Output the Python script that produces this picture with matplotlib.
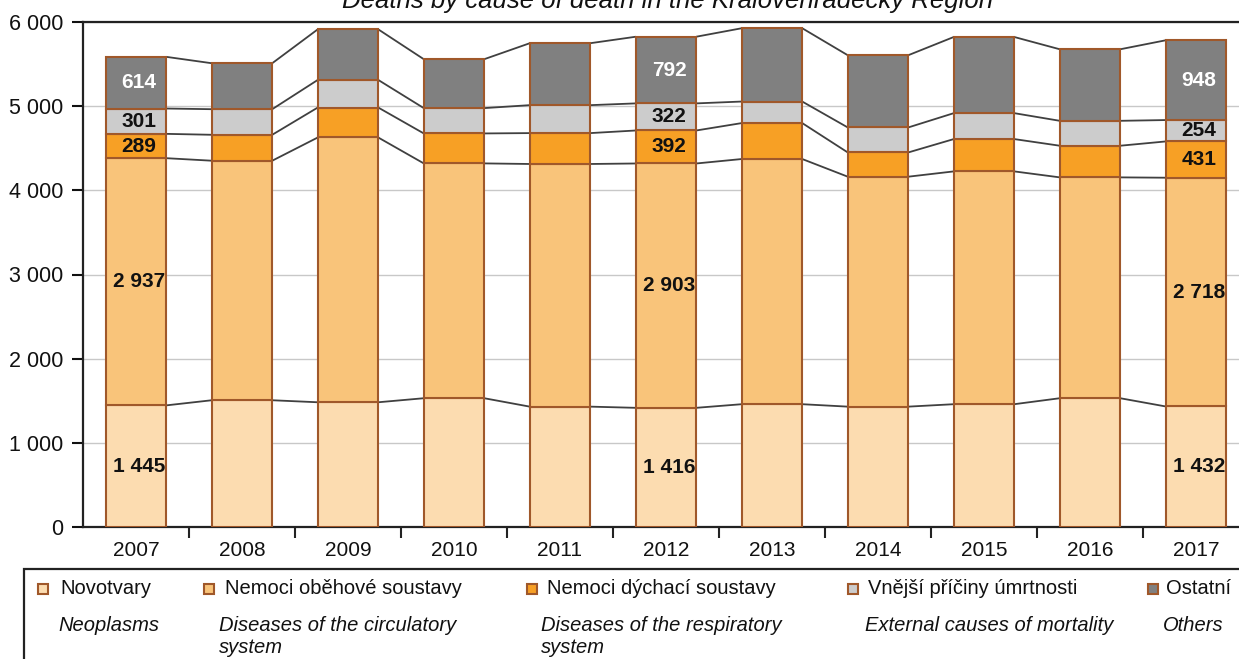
import matplotlib
matplotlib.use("Agg")
import matplotlib.pyplot as plt
from matplotlib.patches import Rectangle
from matplotlib.ticker import FuncFormatter, FixedLocator
import numpy as np

plt.rcParams['font.family'] = ['Liberation Sans', 'DejaVu Sans']

years = ["2007", "2008", "2009", "2010", "2011", "2012", "2013", "2014", "2015", "2016", "2017"]
neoplasms = [1445, 1506, 1482, 1530, 1430, 1416, 1459, 1430, 1459, 1530, 1432]
circulatory = [2937, 2846, 3146, 2790, 2883, 2903, 2913, 2732, 2766, 2624, 2718]
respiratory = [289, 308, 356, 356, 367, 392, 427, 288, 384, 376, 431]
external = [301, 304, 328, 301, 332, 322, 256, 297, 308, 296, 254]
others = [614, 546, 601, 581, 736, 792, 871, 858, 905, 850, 948]
labelled_years = ["2007", "2012", "2017"]

legend_cz = ["Novotvary", "Nemoci oběhové soustavy", "Nemoci dýchací soustavy",
             "Vnější příčiny úmrtnosti", "Ostatní"]
legend_en = ["Neoplasms", "Diseases of the circulatory\nsystem", "Diseases of the respiratory\nsystem",
             "External causes of mortality", "Others"]
colors = ["#FCDCB0", "#F9C47A", "#F7A025", "#CCCCCC", "#808080"]
label_colors = ["#111111", "#111111", "#111111", "#111111", "white"]
title = "Deaths by cause of death in the Královéhradecký Region"

W, H = 1239, 659
def fx(p): return p / W
def fy(p): return 1 - p / H

fig = plt.figure(figsize=(W / 100, H / 100), dpi=100)
ax = fig.add_axes([fx(83), fy(527), 1166 / W, 505 / H])

series = [neoplasms, circulatory, respiratory, external, others]
x = np.arange(len(years))
bw = 0.57
edge = "#A0582A"
bottom = np.zeros(len(years))
tops = []
for s, c, lc in zip(series, colors, label_colors):
    vals = np.array(s, dtype=float)
    ax.bar(x, vals, bw, bottom=bottom, color=c, edgecolor=edge, linewidth=1.5, zorder=3)
    for i, yr in enumerate(years):
        if yr in labelled_years:
            txt = f"{int(vals[i]):,}".replace(",", " ")
            ax.text(x[i] + 0.03, bottom[i] + vals[i] / 2, txt, ha="center", va="center",
                    fontsize=15, fontweight="bold", color=lc, zorder=5)
    bottom = bottom + vals
    tops.append(bottom.copy())

# connector lines between bars
for t in tops:
    for i in range(len(years) - 1):
        ax.plot([x[i] + bw / 2, x[i + 1] - bw / 2], [t[i], t[i + 1]], color="#404040",
                lw=1.3, zorder=2, solid_capstyle="butt")

ax.set_xlim(-0.5, len(years) - 0.5)
ax.set_ylim(0, 6000)
ax.set_yticks(np.arange(0, 6001, 1000))
ax.yaxis.set_major_formatter(FuncFormatter(lambda v, p: f"{int(v):,}".replace(",", " ")))
ax.set_xticks(x)
ax.set_xticklabels(years)
ax.xaxis.set_minor_locator(FixedLocator(np.arange(0.5, len(years) - 0.5, 1)))
ax.tick_params(axis="x", which="major", length=0, pad=10, labelsize=15, colors="#111111")
ax.tick_params(axis="x", which="minor", length=8, width=1.5, direction="out", color="#222222")
ax.tick_params(axis="y", which="major", length=8, width=1.5, pad=6, labelsize=15.5, colors="#111111")
ax.grid(axis="y", color="#C8C8C8", lw=1.0, zorder=0)
for sp in ["left", "bottom", "top"]:
    ax.spines[sp].set_color("#222222")
    ax.spines[sp].set_linewidth(1.6)
ax.spines["right"].set_visible(False)

fig.text(fx(668), fy(8), title, ha="center", va="baseline", fontsize=18.5, style="italic", color="#111111")

# legend box
fig.add_artist(Rectangle((fx(24), -0.5), 2.0, 0.5 + fy(569), transform=fig.transFigure,
                         fill=False, edgecolor="#222222", lw=1.6))
mk_x = [43, 209, 532, 853, 1153]
cz_x = [60, 225, 547, 868, 1166]
en_x = [58, 219, 541, 865, 1163]
ms = 10
for i in range(5):
    fig.add_artist(Rectangle((fx(mk_x[i] - ms / 2), fy(589 + ms / 2)), ms / W, ms / H,
                             transform=fig.transFigure, facecolor=colors[i], edgecolor=edge, lw=1.5))
    fig.text(fx(cz_x[i]), fy(589), legend_cz[i], ha="left", va="center", fontsize=14.5, color="#111111")
    fig.text(fx(en_x[i]), fy(616), legend_en[i], ha="left", va="top", fontsize=14.5,
             style="italic", color="#111111", linespacing=1.2)

fig.savefig("out.png", dpi=100)
